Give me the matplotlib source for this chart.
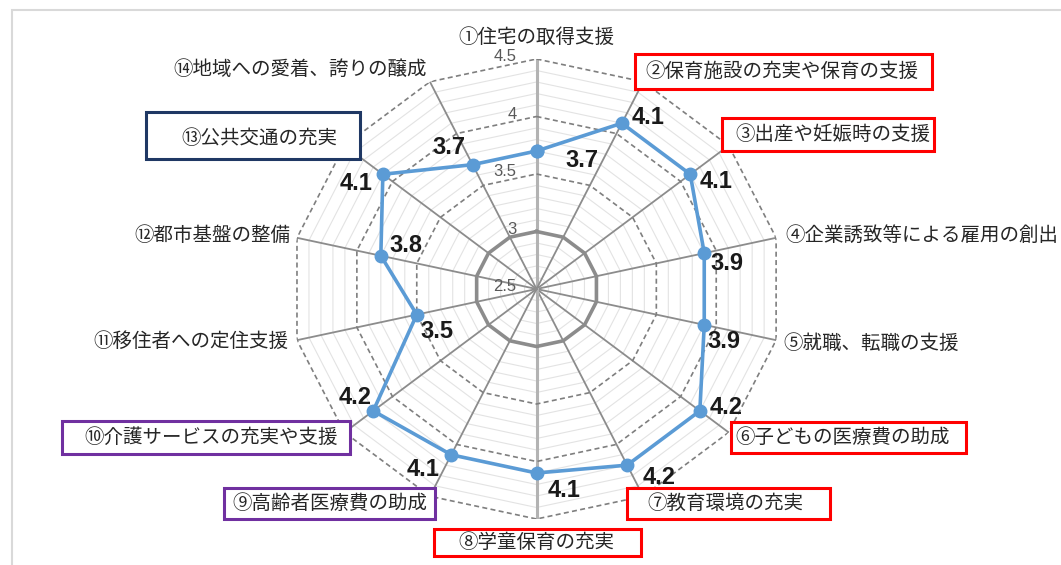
import numpy as np
import matplotlib
matplotlib.use('Agg')
import matplotlib.pyplot as plt
import matplotlib.patches as patches
from matplotlib.path import Path

plt.rcParams['font.family'] = ['Noto Sans CJK JP', 'DejaVu Sans']

# data
categories = ['①住宅の取得支援', '②保育施設の充実や保育の支援', '③出産や妊娠時の支援',
              '④企業誘致等による雇用の創出', '⑤就職、転職の支援', '⑥子どもの医療費の助成',
              '⑦教育環境の充実', '⑧学童保育の充実', '⑨高齢者医療費の助成',
              '⑩介護サービスの充実や支援', '⑪移住者への定住支援', '⑫都市基盤の整備',
              '⑬公共交通の充実', '⑭地域への愛着、誇りの醸成']
scores = [3.7, 4.1, 4.1, 3.9, 3.9, 4.2, 4.2, 4.1, 4.1, 4.2, 3.5, 3.8, 4.1, 3.7]
r_ticks = [2.5, 3, 3.5, 4, 4.5]
tick_labels = ['2.5', '3', '3.5', '4', '4.5']

# layout (pixel offsets from the axis tip / from the point)
label_offsets = [(0, 22), (139, 10), (104, 11), (9, 2), (7, -3), (114, -5), (82, -7),
                 (0, -23), (-100, -7), (-133, -5), (-9, -1), (-7, 2), (-85, 7), (-3, 12)]
label_ha = ['center', 'center', 'center', 'left', 'left', 'center', 'center',
            'center', 'center', 'center', 'right', 'right', 'center', 'right']
value_offsets = [(45, -10), (26, 6), (26, -7), (23, -10), (20, -17), (26, 3), (32, -12),
                 (28, -17), (-28, -15), (-18, 13), (20, -17), (25, 10), (-27, -9), (-24, 17)]
# boxes: index -> (color, left, right, bottom, top pads in px)
boxes = {1: ('#ff0000', 11, 13, 7, 7), 2: ('#ff0000', 13, 4, 6, 6),
         5: ('#ff0000', 4, 16, 5, 5), 6: ('#ff0000', 20, 27, 5, 5),
         7: ('#ff0000', 25, 26, 3, 3), 8: ('#7030a0', 8, 8, 5, 5),
         9: ('#7030a0', 23, 12, 6, 6), 12: ('#1f3864', 35, 23, 10, 16)}


def frame(l, r, b, t):
    def style(x0, y0, w, h, mutation_size):
        x1, y1 = x0 - l, y0 - b
        x2, y2 = x0 + w + r, y0 + h + t
        return Path([(x1, y1), (x2, y1), (x2, y2), (x1, y2), (x1, y1)], closed=True)
    return style


n = len(categories)
theta = np.arange(n) * 2 * np.pi / n
closed = np.append(theta, theta[0])

fig = plt.figure(figsize=(10.61, 5.65), dpi=100)
fig.add_artist(patches.Rectangle((12 / 1061, -0.05), 1.1, 1.0323, transform=fig.transFigure,
                                 fill=False, edgecolor='#d9d9d9', lw=1.5))

ax = fig.add_axes([0.2741, 0.0814, 0.4632, 0.8142], projection='polar')
ax.set_aspect('auto')
ax.set_theta_zero_location('N')
ax.set_theta_direction(-1)
ax.set_ylim(2.5, 4.5)
ax.set_xticks([])
ax.set_yticks([])
ax.grid(False)
ax.spines['polar'].set_visible(False)
ax.patch.set_visible(False)

# minor rings
for lv in np.arange(2.6, 4.45, 0.1):
    if abs(lv * 2 - round(lv * 2)) < 1e-6:
        continue
    ax.plot(closed, [lv] * (n + 1), color='#e3e3e3', lw=0.8, zorder=1)

# spokes
for i, t in enumerate(theta):
    if i in (0, 7):
        ax.plot([t, t], [2.5, 4.5], color='#b3b3b3', lw=2.2, zorder=2)
    else:
        ax.plot([t, t], [2.5, 4.5], color='#8c8c8c', lw=1.3, zorder=2)

# major rings
ax.plot(closed, [3.0] * (n + 1), color='#8c8c8c', lw=2.6, zorder=3)
for lv in [3.5, 4.0, 4.5]:
    ax.plot(closed, [lv] * (n + 1), color='#7f7f7f', lw=1.2, ls=(0, (3, 2)), zorder=3)

# radial tick labels
for rv, txt in zip(r_ticks, tick_labels):
    ax.annotate(txt, xy=(0, rv), xytext=(-20, 2), textcoords='offset pixels',
                ha='right', va='center', fontsize=12, color='#595959',
                family=['Liberation Sans', 'DejaVu Sans'], annotation_clip=False, zorder=4)

# data
vals = scores + scores[:1]
ax.plot(closed, vals, color='#5b9bd5', lw=2.6, marker='o', markersize=9, zorder=5,
        clip_on=False)

for t, v, off in zip(theta, scores, value_offsets):
    ax.annotate(f'{v}', xy=(t, v), xytext=off, textcoords='offset pixels',
                ha='center', va='center', fontsize=17, fontweight='bold', color='#1a1a1a',
                family=['Liberation Sans', 'DejaVu Sans'], annotation_clip=False, zorder=6)

for i, (t, lab) in enumerate(zip(theta, categories)):
    bb = None
    if i in boxes:
        c, l, r, b, tp = boxes[i]
        bb = dict(boxstyle=frame(l, r, b, tp), facecolor='white', edgecolor=c, lw=2.2)
    ax.annotate(lab, xy=(t, 4.5), xytext=label_offsets[i], textcoords='offset pixels',
                ha=label_ha[i], va='center', fontsize=14, color='#262626',
                annotation_clip=False, bbox=bb, zorder=6)

fig.savefig('out.png', dpi=100)
